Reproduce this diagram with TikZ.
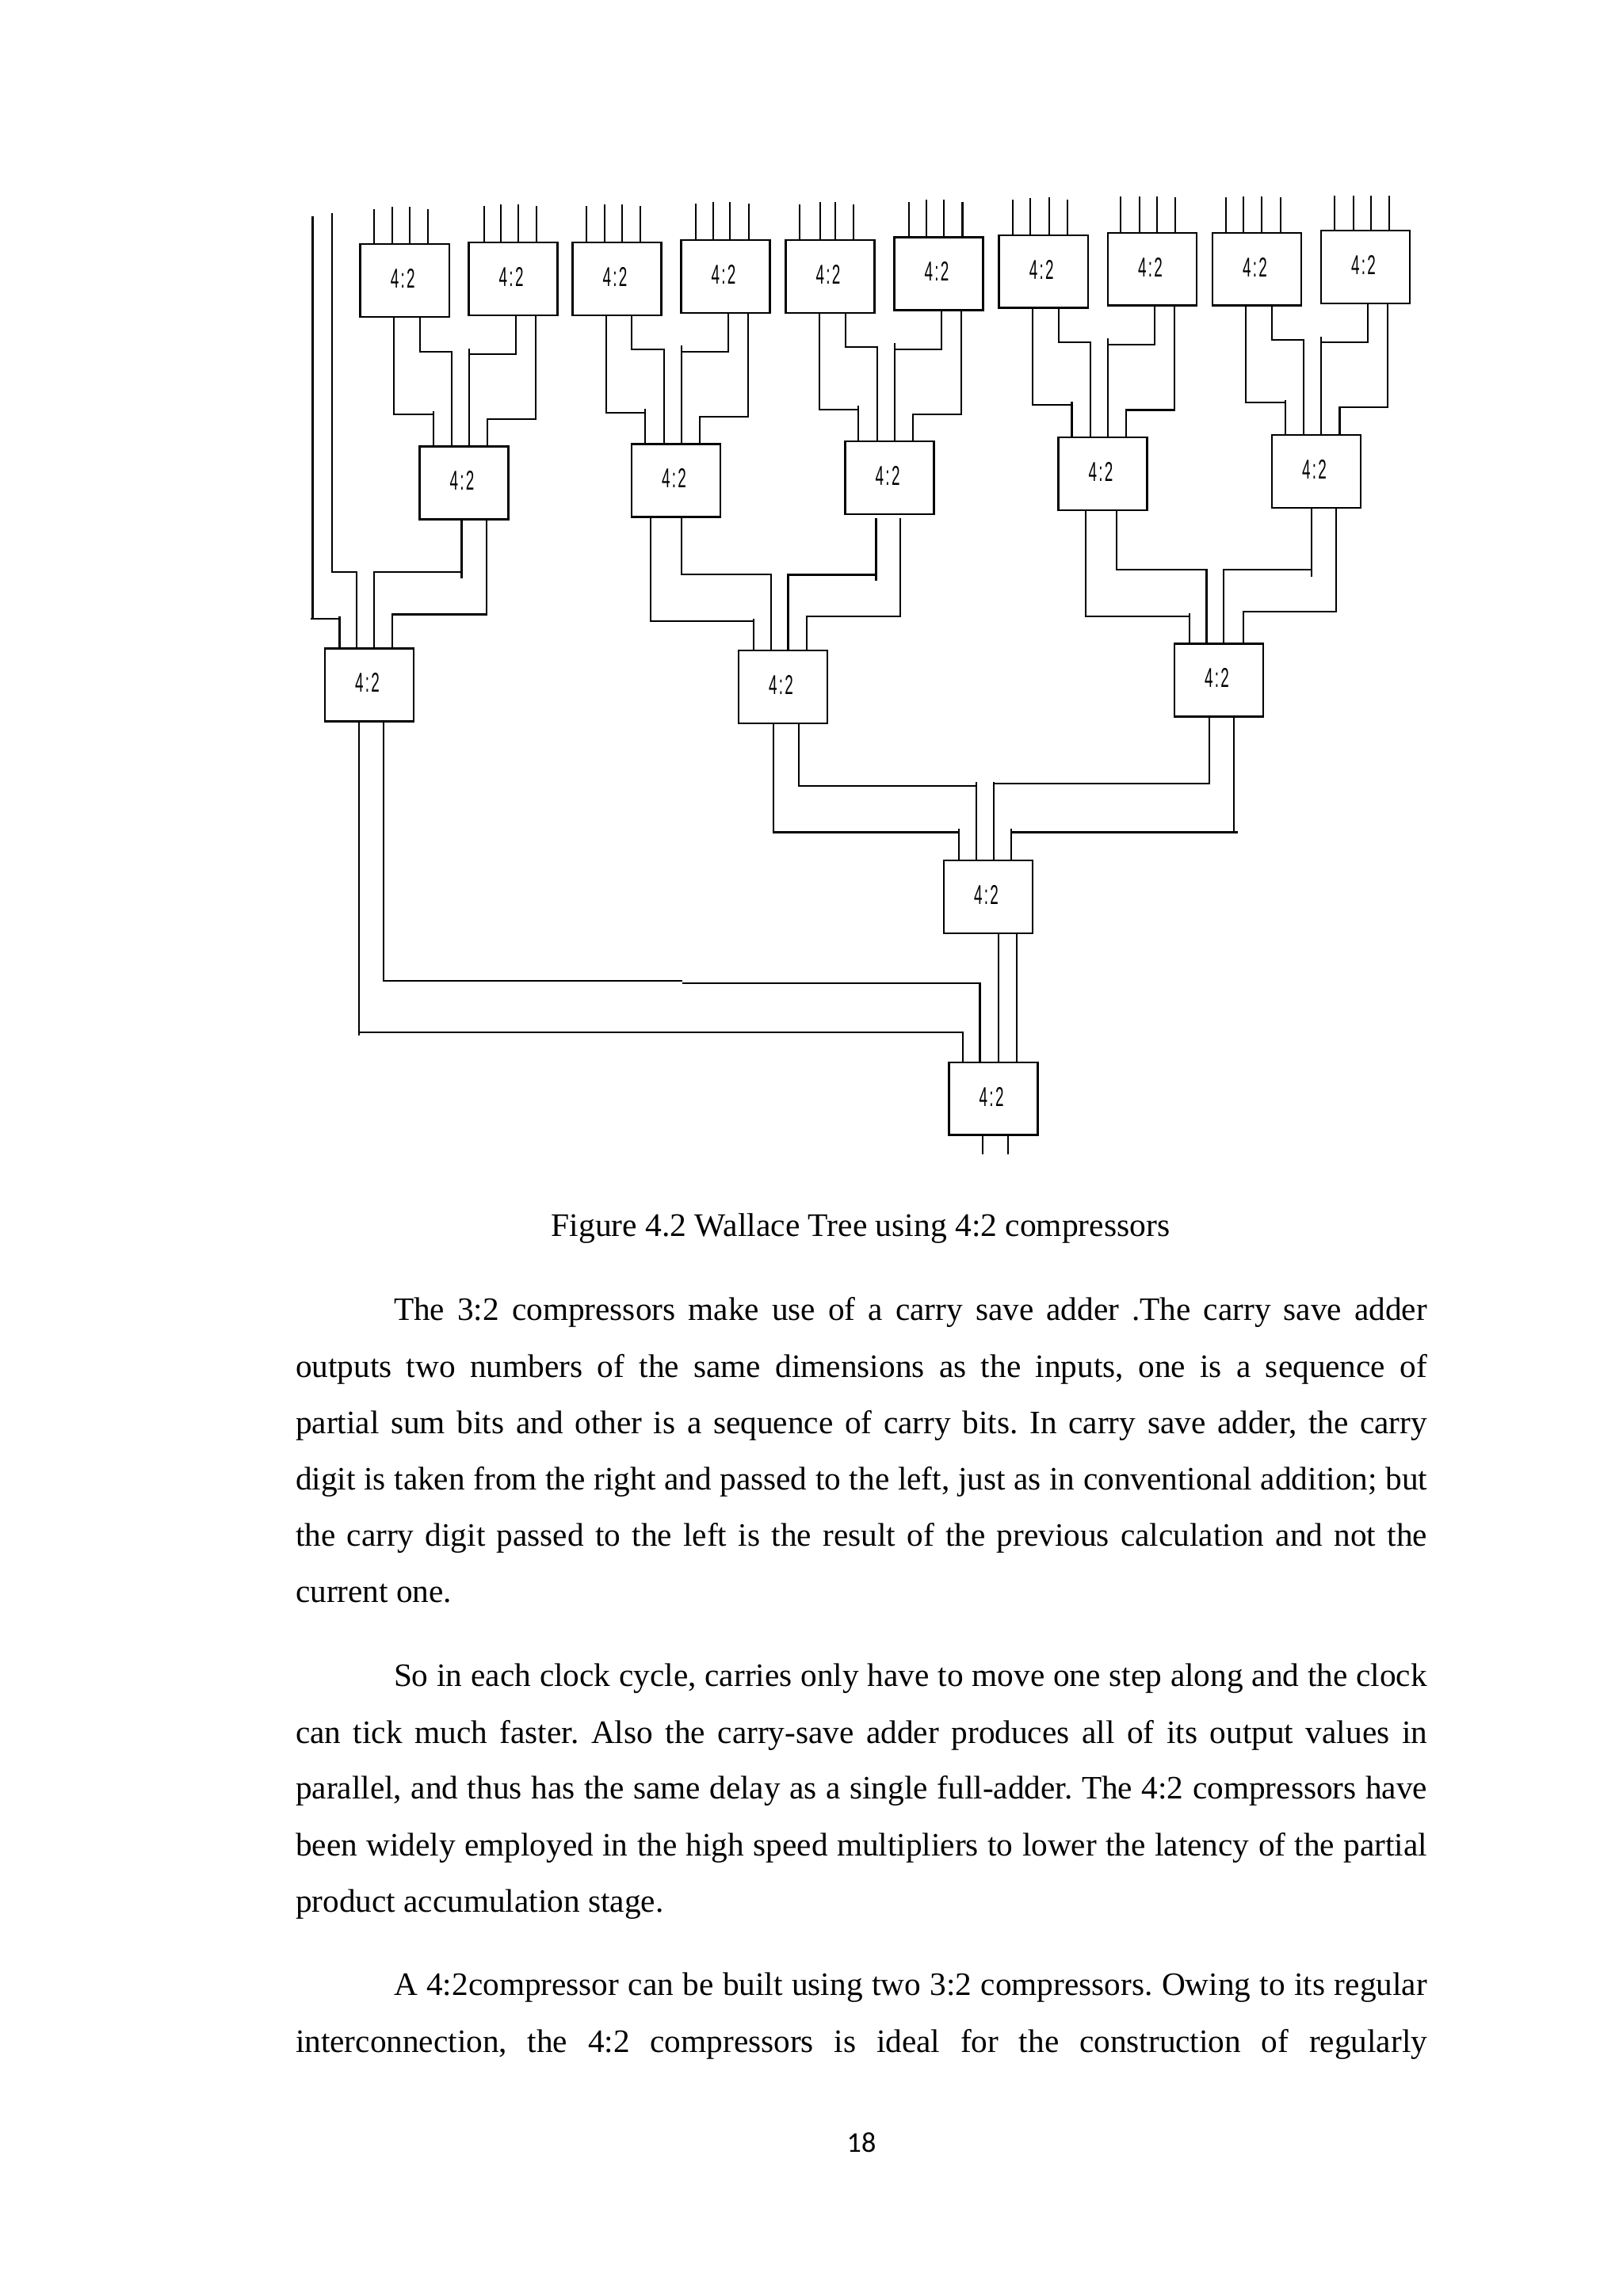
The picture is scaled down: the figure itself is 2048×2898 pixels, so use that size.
\documentclass[tikz,border=0pt]{standalone}
\usepackage{fontspec}
\usepackage{graphicx}
\setmainfont{Liberation Serif}
\newfontfamily\boxfont{Liberation Sans}
\newfontfamily\numfont{Carlito}
\frenchspacing
\tikzstyle{compressor}=[rectangle, draw=black, fill=white, line width=0.75pt, minimum width=32.6pt, minimum height=26.7pt, inner sep=0pt, font=\boxfont\fontsize{10}{10}\selectfont]
\tikzstyle{textline}=[anchor=base west, inner sep=0pt, font=\fontsize{12}{12}\selectfont]
\newcommand{\ratio}{\hspace{-1.5pt}\raisebox{1.5pt}{\scalebox{0.55}[1]{4\hspace{1.2pt}:\hspace{1.2pt}2}}}
\newcommand{\fullline}[1]{\makebox[415.1pt][s]{#1}}
\newcommand{\firstline}[1]{\makebox[379pt][s]{#1}}

\begin{document}
\begin{tikzpicture}[x=0.2907pt, y=-0.2907pt, line width=0.6pt]
	\useasboundingbox (0,0) rectangle (2048,2898);
	\fill[white] (0,0) rectangle (2048,2898);
	% top row
	\node[compressor] (a1) at (510.8,354) {\ratio};
	\node[compressor] (a2) at (647.7,352) {\ratio};
	\node[compressor] (a3) at (778.5,352) {\ratio};
	\node[compressor] (a4) at (915.5,349) {\ratio};
	\node[compressor] (a5) at (1047.5,349) {\ratio};
	\node[compressor] (a6) at (1184.6,345.5) {\ratio};
	\node[compressor] (a7) at (1316.8,342.8) {\ratio};
	\node[compressor] (a8) at (1454,339.8) {\ratio};
	\node[compressor] (a9) at (1586,339.8) {\ratio};
	\node[compressor] (a10) at (1723,337) {\ratio};
	% lower rows
	\node[compressor] (b1) at (585.6,609.5) {\ratio};
	\node[compressor] (b2) at (853,606.5) {\ratio};
	\node[compressor] (b3) at (1122.7,603) {\ratio};
	\node[compressor] (b4) at (1391.5,598) {\ratio};
	\node[compressor] (b5) at (1661,595) {\ratio};
	\node[compressor] (c1) at (466,864.5) {\ratio};
	\node[compressor] (c2) at (988,867) {\ratio};
	\node[compressor] (c3) at (1538,858.5) {\ratio};
	\node[compressor] (d1) at (1247,1132) {\ratio};
	\node[compressor] (e1) at (1253.7,1386.7) {\ratio};
	% free ends
	\coordinate (a1in1) at (471.8,263.5); \coordinate (a1in2) at (495,261); \coordinate (a1in3) at (517.3,261); \coordinate (a1in4) at (540,263.5);
	\coordinate (a2in1) at (610.6,260); \coordinate (a2in2) at (632,258); \coordinate (a2in3) at (654,258); \coordinate (a2in4) at (677,260);
	\coordinate (a3in1) at (739.6,260); \coordinate (a3in2) at (763.3,258); \coordinate (a3in3) at (784.7,258); \coordinate (a3in4) at (808,260);
	\coordinate (a4in1) at (878,257); \coordinate (a4in2) at (900,255); \coordinate (a4in3) at (921,255); \coordinate (a4in4) at (945,257);
	\coordinate (a5in1) at (1009,258); \coordinate (a5in2) at (1034.6,255); \coordinate (a5in3) at (1054,255); \coordinate (a5in4) at (1077,258);
	\coordinate (a6in1) at (1147,254.5); \coordinate (a6in2) at (1169,252); \coordinate (a6in3) at (1191,252); \coordinate (a6in4) at (1214.5,254.5);
	\coordinate (a7in1) at (1278,252); \coordinate (a7in2) at (1300,250); \coordinate (a7in3) at (1323.6,249); \coordinate (a7in4) at (1346.7,252);
	\coordinate (a8in1) at (1414.4,248); \coordinate (a8in2) at (1438,248); \coordinate (a8in3) at (1460,248); \coordinate (a8in4) at (1483,249);
	\coordinate (a9in1) at (1547,249); \coordinate (a9in2) at (1569,248); \coordinate (a9in3) at (1592,248); \coordinate (a9in4) at (1616,249);
	\coordinate (a10in1) at (1684,247); \coordinate (a10in2) at (1708,247); \coordinate (a10in3) at (1730,247); \coordinate (a10in4) at (1753,247);
	\coordinate (free1) at (394.5,273);
	\coordinate (free2) at (419,269);
	\coordinate (out1) at (1239.7,1456.6);
	\coordinate (out2) at (1271.6,1456.6);
	% inputs
	\path[draw=black]
		(a1in1)--(a1in1 |- a1.north) (a1in2)--(a1in2 |- a1.north) (a1in3)--(a1in3 |- a1.north) (a1in4)--(a1in4 |- a1.north)
		(a2in1)--(a2in1 |- a2.north) (a2in2)--(a2in2 |- a2.north) (a2in3)--(a2in3 |- a2.north) (a2in4)--(a2in4 |- a2.north)
		(a3in1)--(a3in1 |- a3.north) (a3in2)--(a3in2 |- a3.north) (a3in3)--(a3in3 |- a3.north) (a3in4)--(a3in4 |- a3.north)
		(a4in1)--(a4in1 |- a4.north) (a4in2)--(a4in2 |- a4.north) (a4in3)--(a4in3 |- a4.north) (a4in4)--(a4in4 |- a4.north)
		(a5in1)--(a5in1 |- a5.north) (a5in2)--(a5in2 |- a5.north) (a5in3)--(a5in3 |- a5.north) (a5in4)--(a5in4 |- a5.north)
		(a6in1)--(a6in1 |- a6.north) (a6in2)--(a6in2 |- a6.north) (a6in3)--(a6in3 |- a6.north) (a6in4)--(a6in4 |- a6.north)
		(a7in1)--(a7in1 |- a7.north) (a7in2)--(a7in2 |- a7.north) (a7in3)--(a7in3 |- a7.north) (a7in4)--(a7in4 |- a7.north)
		(a8in1)--(a8in1 |- a8.north) (a8in2)--(a8in2 |- a8.north) (a8in3)--(a8in3 |- a8.north) (a8in4)--(a8in4 |- a8.north)
		(a9in1)--(a9in1 |- a9.north) (a9in2)--(a9in2 |- a9.north) (a9in3)--(a9in3 |- a9.north) (a9in4)--(a9in4 |- a9.north)
		(a10in1)--(a10in1 |- a10.north) (a10in2)--(a10in2 |- a10.north) (a10in3)--(a10in3 |- a10.north) (a10in4)--(a10in4 |- a10.north);
	% top row to second row
	\path[draw=black]
		(a1.south -| 496.8,0)--(496.8,523.3)--(546.8,523.3) (546.8,519)--(b1.north -| 546.8,0)
		(a1.south -| 529.8,0)--(529.8,443.8)--(570,443.8)--(b1.north -| 570,0)
		(a2.south -| 651,0)--(651,447)--(591.9,447) (591.9,440)--(b1.north -| 591.9,0)
		(a2.south -| 676,0)--(676,528.7)--(615,528.7)--(b1.north -| 615,0)
		(a3.south -| 765,0)--(765,520.6)--(814,520.6) (814,515.7)--(b2.north -| 814,0)
		(a3.south -| 796.8,0)--(796.8,440.7)--(838,440.7)--(b2.north -| 838,0)
		(a4.south -| 918.7,0)--(918.7,443.8)--(859.7,443.8) (859.7,436)--(b2.north -| 859.7,0)
		(a4.south -| 943.7,0)--(943.7,526)--(883,526)--(b2.north -| 883,0)
		(a5.south -| 1033.8,0)--(1033.8,516.6)--(1083.4,516.6) (1083.4,512)--(b3.north -| 1083.4,0)
		(a5.south -| 1066.7,0)--(1066.7,437.6)--(1107,437.6)--(b3.north -| 1107,0)
		(a6.south -| 1188,0)--(1188,440.7)--(1128.6,440.7) (1128.6,433)--(b3.north -| 1128.6,0)
		(a6.south -| 1213,0)--(1213,523)--(1152,523)--(b3.north -| 1152,0)
		(a7.south -| 1303,0)--(1303,511)--(1352.5,511) (1352.5,507)--(b4.north -| 1352.5,0)
		(a7.south -| 1336,0)--(1336,432)--(1376,432)--(b4.north -| 1376,0)
		(a8.south -| 1457,0)--(1457,435)--(1398,435) (1398,427)--(b4.north -| 1398,0)
		(a8.south -| 1482,0)--(1482,517.5)--(1421,517.5)--(b4.north -| 1421,0)
		(a9.south -| 1572,0)--(1572,508)--(1622,508) (1622,505)--(b5.north -| 1622,0)
		(a9.south -| 1605,0)--(1605,428.7)--(1645,428.7)--(b5.north -| 1645,0)
		(a10.south -| 1726,0)--(1726,432)--(1667,432) (1667,425)--(b5.north -| 1667,0)
		(a10.south -| 1751,0)--(1751,514)--(1690.5,514)--(b5.north -| 1690.5,0);
	% second row to third row
	\path[draw=black]
		(free1)--(394.5,781) (392,781)--(428.5,781) (428.5,778)--(c1.north -| 428.5,0)
		(free2)--(419,722.4)--(450,722.4)--(c1.north -| 450,0)
		(b1.south -| 582.5,0)--(582.5,730) (582.5,722.4)--(471.8,722.4)--(c1.north -| 471.8,0)
		(b1.south -| 613.8,0)--(613.8,775.5)--(495.4,775.5)--(c1.north -| 495.4,0)
		(b2.south -| 821,0)--(821,784)--(951,784) (951,780.5)--(c2.north -| 951,0)
		(b2.south -| 859.7,0)--(859.7,725)--(973,725)--(c2.north -| 973,0)
		(1105.5,654)--(1105.5,733) (1105.5,725.5)--(994.5,725.5)--(c2.north -| 994.5,0)
		(1136.4,654)--(1136.4,778)--(1017.8,778)--(c2.north -| 1017.8,0)
		(b4.south -| 1370,0)--(1370,778)--(1501,778) (1501,774)--(c3.north -| 1501,0)
		(b4.south -| 1409,0)--(1409,719)--(1522.5,719)--(c3.north -| 1522.5,0)
		(b5.south -| 1654.6,0)--(1654.6,728) (1654.6,719)--(1544,719)--(c3.north -| 1544,0)
		(b5.south -| 1685.6,0)--(1685.6,772.4)--(1569,772.4)--(c3.north -| 1569,0);
	% last rows
	\path[draw=black]
		(c2.south -| 975.8,0)--(975.8,1050.5)--(1210,1050.5) (1210,1045.5)--(d1.north -| 1210,0)
		(c2.south -| 1007.6,0)--(1007.6,992)--(1232,992) (1232,987)--(d1.north -| 1232,0)
		(c3.south -| 1526,0)--(1526,989)--(1254,989) (1254,987)--(d1.north -| 1254,0)
		(c3.south -| 1557,0)--(1557,1050.5) (1562,1050.5)--(1276,1050.5) (1276,1045.5)--(d1.north -| 1276,0)
		(d1.south -| 1259.6,0)--(e1.north -| 1259.6,0)
		(d1.south -| 1282.8,0)--(e1.north -| 1282.8,0)
		(c1.south -| 483.7,0)--(483.7,1238)--(861,1238) (861,1241)--(1236.5,1241)--(e1.north -| 1236.5,0)
		(c1.south -| 453.4,0)--(453.4,1307) (453.4,1303)--(1215,1303)--(e1.north -| 1215,0)
		(e1.south -| 1239.7,0)--(out1)
		(e1.south -| 1271.6,0)--(out2);
	% page text
	\node[anchor=base, inner sep=0pt, font=\fontsize{12.07}{12}\selectfont] (caption) at (1086,1560) {Figure 4.2 Wallace Tree using 4:2 compressors};
	\node[textline] (p1l1) at (496,1666) {\firstline{The 3:2 compressors make use of a carry save adder .The carry save adder}};
	\node[textline] (p1l2) at (372,1738.5) {\fullline{outputs two numbers of the same dimensions as the inputs, one is a sequence of}};
	\node[textline] (p1l3) at (372,1809) {\fullline{partial sum bits and other is a sequence of carry bits. In carry save adder, the carry}};
	\node[textline] (p1l4) at (372,1880.5) {\fullline{digit is taken from the right and passed to the left, just as in conventional addition; but}};
	\node[textline] (p1l5) at (372,1951) {\fullline{the carry digit passed to the left is the result of the previous calculation and not the}};
	\node[textline] (p1l6) at (372,2022.5) {current one.};
	\node[textline] (p2l1) at (496,2128.4) {\firstline{So in each clock cycle, carries only have to move one step along and the clock}};
	\node[textline] (p2l2) at (372,2200) {\fullline{can tick much faster. Also the carry-save adder produces all of its output values in}};
	\node[textline] (p2l3) at (372,2270.6) {\fullline{parallel, and thus has the same delay as a single full-adder. The 4:2 compressors have}};
	\node[textline] (p2l4) at (372,2342) {\fullline{been widely employed in the high speed multipliers to lower the latency of the partial}};
	\node[textline] (p2l5) at (372,2413.8) {product accumulation stage.};
	\node[textline] (p3l1) at (496,2518.6) {\firstline{A 4:2compressor can be built using two 3:2 compressors. Owing to its regular}};
	\node[textline] (p3l2) at (372,2590) {\fullline{interconnection, the 4:2 compressors is ideal for the construction of regularly}};
	\node[anchor=base, inner sep=0pt, font=\numfont\fontsize{10.5}{10.5}\selectfont] (pagenum) at (1087,2716) {18};
\end{tikzpicture}
\end{document}
